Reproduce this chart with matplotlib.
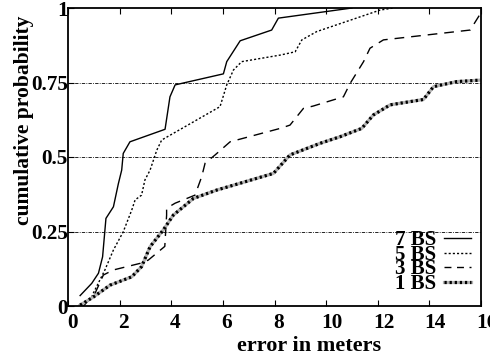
import matplotlib
matplotlib.use("Agg")
import matplotlib.pyplot as plt
import matplotlib.transforms as mtransforms
from matplotlib.lines import Line2D

plt.rcParams['font.family'] = ['Liberation Serif', 'DejaVu Serif']
plt.rcParams['font.weight'] = 'bold'

# error in meters / cumulative probability
x7 = [0.47, 0.92, 1.18, 1.34, 1.47, 1.76, 1.95, 2.08, 2.14, 2.40, 3.76, 3.95, 4.15,
      6.02, 6.15, 6.67, 7.89, 8.15, 11.0]
y7 = [0.035, 0.076, 0.11, 0.165, 0.294, 0.333, 0.41, 0.456, 0.512, 0.551, 0.593, 0.702, 0.742,
      0.779, 0.82, 0.89, 0.926, 0.966, 1.0]

x5 = [0.92, 0.98, 1.43, 1.76, 2.14, 2.47, 2.60, 2.85, 2.98, 3.18, 3.44, 3.63, 5.89, 6.15,
      6.41, 6.73, 8.22, 8.80, 9.06, 9.64, 12.09, 12.6]
y5 = [0.03, 0.043, 0.121, 0.188, 0.249, 0.322, 0.356, 0.372, 0.423, 0.456, 0.523, 0.557, 0.669, 0.742,
      0.792, 0.82, 0.842, 0.853, 0.893, 0.921, 0.993, 1.0]

x3 = [0.6, 1.05, 1.37, 1.76, 2.79, 3.11, 3.75, 3.82, 3.82, 4.15, 4.92, 5.18, 5.31, 5.70, 6.28,
      8.22, 8.6, 9.12, 9.5, 10.67, 10.93, 11.45, 11.7, 12.22, 15.58, 15.97]
y3 = [0.0, 0.043, 0.104, 0.121, 0.143, 0.154, 0.2, 0.305, 0.328, 0.345, 0.372, 0.434, 0.479, 0.507, 0.551,
      0.596, 0.607, 0.663, 0.671, 0.702, 0.747, 0.82, 0.865, 0.893, 0.926, 0.98]

x1 = [0.47, 0.98, 1.63, 2.47, 2.85, 3.18, 3.69, 4.08, 4.86, 5.76, 6.67, 7.96, 8.6, 9.77,
      10.54, 11.38, 11.83, 12.48, 13.77, 14.16, 15.06, 15.97]
y1 = [0.003, 0.03, 0.07, 0.098, 0.132, 0.199, 0.255, 0.305, 0.361, 0.389, 0.412, 0.445, 0.507, 0.546,
      0.568, 0.596, 0.641, 0.675, 0.693, 0.736, 0.753, 0.758]

labels = ['7 BS', '5 BS', '3 BS', '1 BS']
xticks = [0, 2, 4, 6, 8, 10, 12, 14, 16]
yticks = [0, 0.25, 0.5, 0.75, 1]
yticklabels = ['0', '0.25', '0.5', '0.75', '1']

W, H = 498, 358
fig = plt.figure(figsize=(W / 100, H / 100), dpi=100)
ax = fig.add_axes([68 / W, 52 / H, 413 / W, 298 / H])

for yv in yticks[1:-1]:
    ax.axhline(yv, color='black', lw=0.6, ls=(0, (4, 1.5, 1, 1.5)), zorder=1)

ax.plot(x7, y7, color='black', lw=1.0)
ax.plot(x5, y5, color='black', lw=1.0, ls=(0, (1.5, 1.5)))
ax.plot(x3, y3, color='black', lw=1.0, ls=(0, (7, 5)))
ax.plot(x1, y1, color='0.7', lw=2.3)
ax.plot(x1, y1, color='black', lw=2.3, ls=(0, (0.7, 0.9)))

ax.set_xlim(0, 16)
ax.set_ylim(0, 1)
ax.set_xticks(xticks)
ax.set_yticks(yticks)
ax.set_yticklabels(yticklabels)
ax.tick_params(direction='in', top=True, right=False, length=4, width=0.8,
               labelsize=15.3)
ax.tick_params(axis='x', pad=5)
ax.tick_params(axis='y', pad=0)
for s in ax.spines.values():
    s.set_linewidth(1.3)

# gnuplot puts the x tick labels a little right of the ticks; the last one is cut off
clip = mtransforms.Bbox.from_extents(0, 0, 490, H)
for lab in ax.get_xticklabels():
    off = 4 if len(lab.get_text()) == 1 else 6
    lab.set_transform(lab.get_transform() + mtransforms.ScaledTranslation(off / 100, 0, fig.dpi_scale_trans))
    lab.set_clip_box(clip)
    lab.set_clip_on(True)

fig.text(309 / W, 1 - 346 / H, 'error in meters', fontsize=16, fontweight='bold',
         ha='center', va='center')
fig.text(24 / W, 1 - 120 / H, 'cumulative probability', fontsize=15.5, fontweight='bold',
         ha='center', va='center', rotation=90)

handles = [
    Line2D([], [], color='black', lw=1.0),
    Line2D([], [], color='black', lw=1.0, ls=(0, (1.5, 1.5))),
    Line2D([], [], color='black', lw=1.0, ls=(0, (5, 4))),
    (Line2D([], [], color='0.7', lw=2.3), Line2D([], [], color='black', lw=2.3, ls=(0, (0.7, 0.9)))),
]
ax.legend(handles, labels, loc='lower right', frameon=False, markerfirst=False,
          fontsize=15, handlelength=1.3, handletextpad=0.38, labelspacing=-0.26,
          borderaxespad=0, borderpad=0, bbox_to_anchor=(0.976, 0.04))

fig.savefig('out.png', dpi=100)
